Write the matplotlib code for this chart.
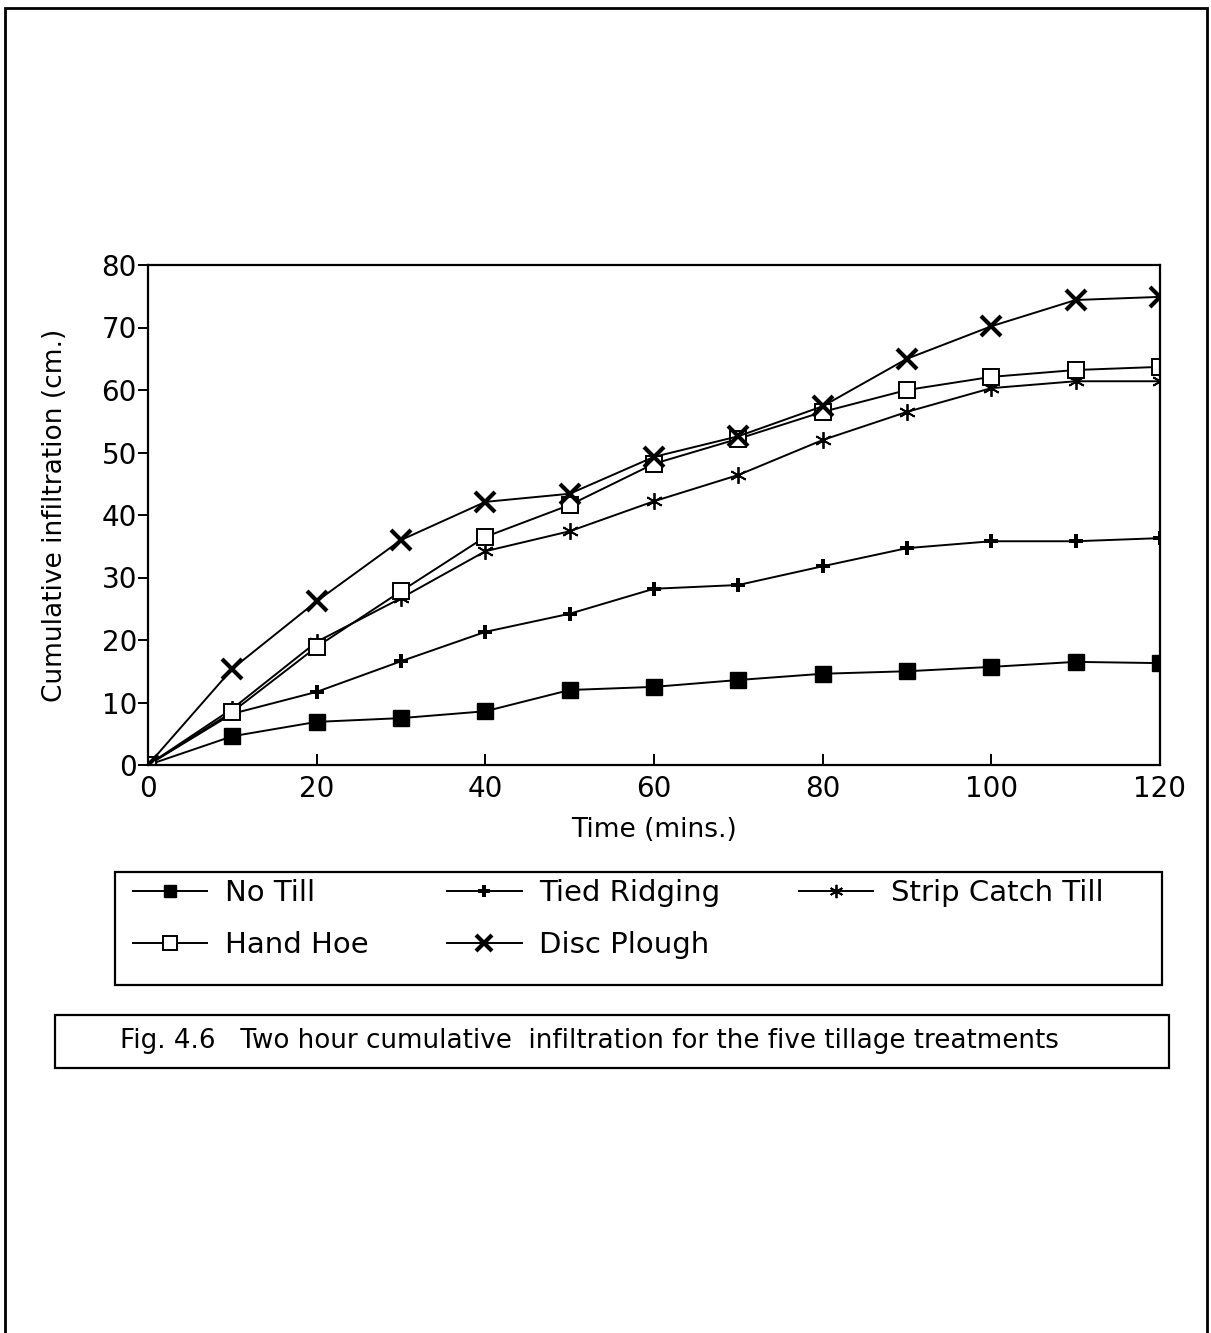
import matplotlib.pyplot as plt
from matplotlib.patches import Rectangle

# time in minutes
time_min = [0, 10, 20, 30, 40, 50, 60, 70, 80, 90, 100, 110, 120]

# cumulative infiltration (cm.)
no_till = [0, 4.6, 6.9, 7.5, 8.6, 12.0, 12.5, 13.6, 14.6, 15.0, 15.7, 16.5, 16.3]
tied_ridging = [0, 8.2, 11.7, 16.6, 21.3, 24.2, 28.2, 28.8, 31.8, 34.7, 35.8, 35.8, 36.3]
strip_catch = [0, 9.0, 19.7, 26.7, 34.2, 37.4, 42.2, 46.4, 52.0, 56.5, 60.3, 61.4, 61.4]
hand_hoe = [0, 8.5, 18.9, 27.8, 36.5, 41.6, 48.2, 52.2, 56.5, 60.0, 62.1, 63.2, 63.7]
disc_plough = [0, 15.4, 26.2, 36.0, 42.1, 43.4, 49.3, 52.6, 57.4, 65.0, 70.2, 74.4, 74.9]

x_ticks = [0, 20, 40, 60, 80, 100, 120]
y_ticks = [0, 10, 20, 30, 40, 50, 60, 70, 80]

plt.rcParams['font.family'] = ['DejaVu Sans']

W, H = 1211, 1333
fig = plt.figure(figsize=(W / 100, H / 100), dpi=100)
ax = fig.add_axes([148 / W, 1 - 765 / H, (1160 - 148) / W, (765 - 265) / H])

lw = 1.4
l1, = ax.plot(time_min, no_till, color='black', lw=lw, marker='s', ms=11,
              label='No Till')
l2, = ax.plot(time_min, tied_ridging, color='black', lw=lw, marker='P', ms=10,
              mew=0, label='Tied Ridging')
l3, = ax.plot(time_min, strip_catch, color='black', lw=lw, marker=(6, 2, 0), ms=12,
              mew=1.3, label='Strip Catch Till')
l4, = ax.plot(time_min, hand_hoe, color='black', lw=lw, marker='s', ms=12,
              mfc='white', mew=1.4, label='Hand Hoe')
l5, = ax.plot(time_min, disc_plough, color='black', lw=lw, marker='x', ms=15,
              mew=3, label='Disc Plough')

ax.set_xlim(0, 120)
ax.set_ylim(0, 80)
ax.set_xticks(x_ticks)
ax.set_yticks(y_ticks)
ax.tick_params(axis='x', direction='in', length=8, width=1.4, pad=7, labelsize=20)
ax.tick_params(axis='y', direction='out', length=7, width=1.4, pad=1, labelsize=20)
for s in ax.spines.values():
    s.set_linewidth(1.6)

ax.set_xlabel('Time (mins.)', fontsize=19, labelpad=10)
ax.set_ylabel('Cumulative infiltration (cm.)', fontsize=19, labelpad=24)

# legend, row-major order like the original
handles = [l1, l4, l2, l5, l3]
leg = fig.legend(handles, [h.get_label() for h in handles], ncol=3,
                 loc='upper left', bbox_to_anchor=(133 / W, 1 - 879 / H),
                 fontsize=21, frameon=False,
                 handlelength=2.55, handletextpad=0.6, labelspacing=0.82,
                 columnspacing=2.7, borderpad=0, borderaxespad=0, markerscale=0.8)

# legend box
fig.patches.append(Rectangle((115 / W, 1 - 985 / H), (1162 - 115) / W, (985 - 872) / H,
                             transform=fig.transFigure, fill=False, lw=1.6,
                             edgecolor='black'))

# caption box
fig.patches.append(Rectangle((55 / W, 1 - 1068 / H), (1169 - 55) / W, (1068 - 1015) / H,
                             transform=fig.transFigure, fill=False, lw=1.6,
                             edgecolor='black'))
fig.text(120 / W, 1 - 1041 / H,
         'Fig. 4.6   Two hour cumulative  infiltration for the five tillage treatments',
         fontsize=18.8, va='center', ha='left')

# page border
fig.patches.append(Rectangle((5 / W, -0.02), (1207 - 5) / W, 1.02 - 8 / H,
                             transform=fig.transFigure, fill=False, lw=2,
                             edgecolor='black'))

fig.savefig('out.png', dpi=100)
